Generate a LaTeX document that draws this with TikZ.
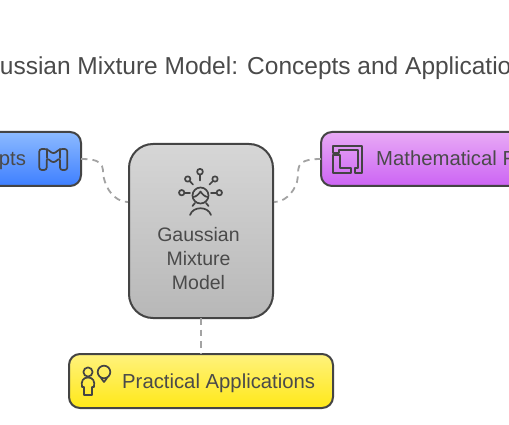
\documentclass[tikz,border=0pt]{standalone}
\usepackage{fontspec}
\setmainfont{Liberation Sans}
\usetikzlibrary{calc}
\definecolor{ink}{HTML}{444444}
\definecolor{txt}{HTML}{4A4A4A}
\definecolor{dash}{HTML}{A3A3A3}
\tikzset{
 x=1pt,y=-1pt,
 box/.style={draw=ink,line width=2pt,rounded corners=11pt,inner sep=0pt,outer sep=0pt},
 lab/.style={text=txt,font=\fontsize{20.3}{24}\selectfont,inner sep=0pt,anchor=base west},
 mid/.style={text=txt,font=\fontsize{19.5}{24}\selectfont,inner sep=0pt,anchor=base},
 link/.style={draw=dash,line width=1.8pt,dash pattern=on 6.5pt off 5pt},
 icon/.style={draw=ink,line width=1.7pt,line join=round,line cap=round,fill=none}
}
\begin{document}
\begin{tikzpicture}
\useasboundingbox (0,0) rectangle (509,425);
\clip (0,0) rectangle (509,425);
\fill[white] (0,0) rectangle (509,425);
\node[lab,font=\fontsize{24.5}{28}\selectfont] (title) at (-33,74.5) {Gaussian Mixture Model: Concepts and Applications};
% boxes
\node[box,top color=black!16,bottom color=black!28,rounded corners=24pt,minimum width=144pt,minimum height=174pt] (gmm) at (201,231) {};
\node[box,top color={rgb,255:red,140;green,186;blue,255},bottom color={rgb,255:red,62;green,127;blue,255},minimum width=200pt,minimum height=54pt] (concepts) at (-19,159) {};
\node[box,top color={rgb,255:red,232;green,170;blue,245},bottom color={rgb,255:red,204;green,100;blue,244},minimum width=300pt,minimum height=54pt] (math) at (471,159) {};
\node[box,top color={rgb,255:red,255;green,242;blue,125},bottom color={rgb,255:red,255;green,232;blue,24},minimum width=264pt,minimum height=54pt] (prac) at (201,381) {};
% connector ends
\coordinate (gl) at (128,202);
\coordinate (gr) at (274,202);
% connectors
\draw[link] (concepts.east) .. controls (110,159) and (100,170) .. (105,182) .. controls (109,194) and (118,202) .. (gl);
\draw[link] (math.west) .. controls (292,159) and (300,170) .. (297,182) .. controls (293,194) and (284,202) .. (gr);
\draw[link] (gmm.south) -- (prac.north);
% labels
\node[lab] (tconcepts) at (-60,165.5) {Concepts};
\node[lab] (tmath) at (376,165.5) {Mathematical Foundations};
\node[lab] (tprac) at (122,388) {Practical Applications};
\node[mid] (t1) at (198.5,241) {Gaussian};
\node[mid] (t2) at (198.5,265) {Mixture};
\node[mid] (t3) at (198.5,289) {Model};
% gmm icon
\begin{scope}[icon]
\draw (200,171.7) circle (2.9);
\draw (200,174.6) -- (200,180.5);
\draw (187.7,179) circle (2.7);
\draw (189.6,181) -- (193,184.5);
\draw (215,179) circle (2.7);
\draw (213,181) -- (209.5,184.5);
\draw (181.7,192.7) circle (2.7);
\draw (184.4,192.7) -- (190,192.7);
\draw (219.3,192.7) circle (2.7);
\draw (216.6,192.7) -- (211,192.7);
\draw (200.5,195.5) circle (8);
\draw (193,197) .. controls (196,197) and (199,194) .. (200.5,191.5) .. controls (202,194) and (205,197) .. (208,197);
\draw (195,203) -- (192.5,206);
\draw (206,203) -- (208.5,206);
\draw (190,215) .. controls (193,206) and (208,206) .. (211,215);
\end{scope}
% concepts icon
\begin{scope}[icon,rounded corners=2.5pt]
\draw (39.3,154) -- (39.3,149) -- (46.7,149) -- (53.5,154) -- (60,149) -- (67.3,149) -- (67.3,170) -- (60,170) -- (60,158) -- (53.5,163) -- (46.7,158) -- (46.7,170) -- (39.3,170) -- cycle;
\draw (46.7,149) -- (46.7,158);
\draw (60,149) -- (60,158);
\end{scope}
% math icon
\begin{scope}[icon]
\draw (333,146) -- (362,146) -- (362,173) -- (355,173) -- (355,168) -- (358,168) -- (358,150) -- (339,150) -- (339,153) -- (333,153) -- cycle;
\draw (333,155) -- (333,173) -- (351,173) -- (351,168) -- (340,168) -- (340,155) -- cycle;
\end{scope}
% practical icon
\begin{scope}[icon]
\draw (88,372) circle (4.6);
\draw (84,395) -- (84,387) -- (82,387) .. controls (81,381) and (83,377.5) .. (88,377.5) .. controls (93,377.5) and (95,381) .. (94,387) -- (92,387) -- (92,395) -- cycle;
\draw (104,372) circle (6.3);
\draw (101,378) -- (104,382) -- (107,378);
\end{scope}
\end{tikzpicture}
\end{document}
